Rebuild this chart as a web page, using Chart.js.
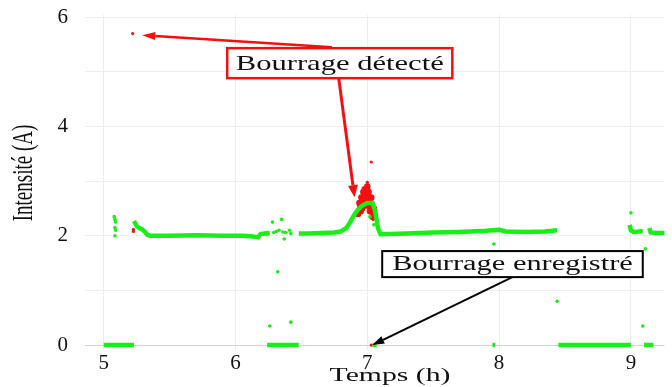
<!DOCTYPE html>
<html>
<head>
<meta charset="utf-8">
<script src="https://cdn.jsdelivr.net/npm/chart.js@4.4.1/dist/chart.umd.min.js"></script>
<style>
html, body { margin: 0; padding: 0; background: #fff; }
#wrap { width: 672px; height: 387px; }
</style>
</head>
<body>
<div id="wrap"><canvas id="myChart"></canvas></div>
<script>
// current trace (A) vs time (h); null = gap in the trace
let traceX = [5.0, 5.23, null,
    5.23, 5.25, 5.27, 5.29, 5.31, 5.33, 5.35, 5.5, 5.7, 5.9, 6.05, 6.12, 6.17, 6.19, 6.22, 6.26, null,
    6.24, 6.48, null,
    6.48, 6.55, 6.65, 6.75, 6.8, 6.84, 6.87, 6.9, 6.93, 6.96, 7.0, 7.04, 7.06, 7.08, 7.1, 7.3, 7.5, 7.7, 7.9, 8.0, 8.05, 8.2, 8.35, 8.44, null,
    7.04, 7.07, null,
    7.95, 7.97, null,
    8.45, 9.0, null,
    8.99, 9.0, 9.02, 9.06, 9.09, null,
    9.1, 9.17, null,
    9.14, 9.15, 9.2, 9.26];
let traceY = [0, 0, null,
    2.27, 2.18, 2.14, 2.12, 2.08, 2.02, 2.0, 2.0, 2.01, 2.0, 2.0, 1.99, 1.97, 2.03, 2.04, 2.05, null,
    0, 0, null,
    2.04, 2.04, 2.05, 2.06, 2.08, 2.14, 2.25, 2.38, 2.48, 2.55, 2.6, 2.6, 2.45, 2.15, 2.03, 2.04, 2.06, 2.07, 2.09, 2.11, 2.08, 2.07, 2.08, 2.1, null,
    0, 0, null,
    0, 0, null,
    0, 0, null,
    2.2, 2.1, 2.07, 2.08, 2.09, null,
    0, 0, null,
    2.14, 2.06, 2.05, 2.05];

// isolated green samples
let dotsX = [5.08, 5.085, 5.09, 5.085, 5.09, 5.085, 6.24, 6.28, 6.29, 6.31, 6.32, 6.33, 6.35, 6.36, 6.37, 6.38, 6.41, 6.42, 6.26, 6.42, 7.02, 7.05, 7.96, 8.44, 9.0, 9.11, 9.09];
let dotsY = [2.35, 2.3, 2.25, 2.15, 2.1, 2.0, 2.03, 2.25, 2.06, 2.08, 1.34, 2.1, 2.3, 2.07, 1.94, 2.06, 2.1, 2.04, 0.35, 0.42, 2.35, 2.2, 1.85, 0.8, 2.42, 1.76, 0.35];

// detected jam (red)
let jamX = [6.93, 6.94, 6.95, 6.955, 6.96, 6.97, 6.975, 6.98, 6.99, 7.0, 7.005, 7.01, 7.02, 7.03, 7.04, 7.05];
let jamY = [2.4, 2.6, 2.45, 2.7, 2.5, 2.8, 2.55, 2.85, 2.6, 2.9, 2.55, 2.8, 2.45, 2.7, 2.35, 2.5];
let redDotsX = [5.22, 5.225, 5.225, 7.03, 7.0, 7.03, 7.045];
let redDotsY = [5.7, 2.08, 2.12, 3.35, 2.98, 0, 2.3];

let xTicks = [5, 6, 7, 8, 9];
let yTicks = [0, 1, 2, 3, 4, 5, 6];

function pts(xs, ys) {
    return xs.map((x, i) => (x === null ? { x: NaN, y: null } : { x: x, y: ys[i] }));
}

let green = '#18ee18';
let red = '#f41010';
let serif = "'Liberation Serif', 'Times New Roman', serif";

// boxes and arrows in data units
let notes = [
    { text: 'Bourrage détecté', x0: 5.937, x1: 7.645, y0: 5.433, y1: 4.884, color: red, size: 22, stretch: 1.39, lw: 2.5 },
    { text: 'Bourrage enregistré', x0: 7.113, x1: 9.09, y0: 1.72, y1: 1.244, color: '#000', size: 20, stretch: 1.52, lw: 2 }
];
let arrows = [
    { from: [6.731, 5.45], to: [5.292, 5.67], color: red, lw: 2.5, head: 13, hw: 4 },
    { from: [6.783, 4.884], to: [6.903, 2.707], color: red, lw: 3, head: 12, hw: 5 },
    { from: [8.101, 1.244], to: [7.038, 0], color: '#000', lw: 2, head: 12, hw: 4 }
];

function arrow(ctx, x1, y1, x2, y2, c, lw, hl, hw) {
    let a = Math.atan2(y2 - y1, x2 - x1);
    let bx = x2 - hl * Math.cos(a), by = y2 - hl * Math.sin(a);
    ctx.strokeStyle = c;
    ctx.fillStyle = c;
    ctx.lineWidth = lw;
    ctx.beginPath();
    ctx.moveTo(x1, y1);
    ctx.lineTo(bx, by);
    ctx.stroke();
    ctx.beginPath();
    ctx.moveTo(x2, y2);
    ctx.lineTo(bx + hw * Math.sin(a), by - hw * Math.cos(a));
    ctx.lineTo(bx - hw * Math.sin(a), by + hw * Math.cos(a));
    ctx.closePath();
    ctx.fill();
}

function stretchedText(ctx, t, x, y, size, sx, sy, rot) {
    ctx.save();
    ctx.translate(x, y);
    if (rot) ctx.rotate(rot);
    ctx.scale(sx, sy);
    ctx.font = size + 'px ' + serif;
    ctx.fillStyle = '#111';
    ctx.textAlign = 'center';
    ctx.textBaseline = 'middle';
    ctx.fillText(t, 0, 0);
    ctx.restore();
}

const notesPlugin = {
    id: 'notes',
    afterDraw(chart) {
        let ctx = chart.ctx;
        let xs = chart.scales.x, ys = chart.scales.y;
        ctx.save();
        arrows.forEach(a => {
            arrow(ctx, xs.getPixelForValue(a.from[0]), ys.getPixelForValue(a.from[1]),
                xs.getPixelForValue(a.to[0]), ys.getPixelForValue(a.to[1]), a.color, a.lw, a.head, a.hw);
        });
        notes.forEach(n => {
            let l = xs.getPixelForValue(n.x0), r = xs.getPixelForValue(n.x1);
            let t = ys.getPixelForValue(n.y0), b = ys.getPixelForValue(n.y1);
            ctx.fillStyle = '#fff';
            ctx.fillRect(l, t, r - l, b - t);
            ctx.strokeStyle = n.color;
            ctx.lineWidth = n.lw;
            ctx.strokeRect(l, t, r - l, b - t);
            stretchedText(ctx, n.text, (l + r) / 2, (t + b) / 2 + 1, n.size, n.stretch, 1, 0);
        });
        // axis titles
        stretchedText(ctx, 'Temps (h)', 390, 376, 18, 1.65, 1, 0);
        stretchedText(ctx, 'Intensité (A)', 25, 173, 19, 1, 1.5, -Math.PI / 2);
        ctx.restore();
    }
};

new Chart('myChart', {
    type: 'scatter',
    data: {
        datasets: [
            { data: pts(traceX, traceY), showLine: true, borderColor: green, borderWidth: 4.5, pointRadius: 0, spanGaps: false },
            { data: pts(dotsX, dotsY), backgroundColor: green, borderWidth: 0, pointRadius: 1.8 },
            { data: pts(jamX, jamY), showLine: true, borderColor: red, borderWidth: 3.5, pointRadius: 1.5, backgroundColor: red, borderJoinStyle: 'bevel' },
            { data: pts(redDotsX, redDotsY), backgroundColor: red, borderWidth: 0, pointRadius: 1.6 }
        ]
    },
    options: {
        responsive: true,
        maintainAspectRatio: false,
        animation: false,
        layout: { padding: { top: 15, right: 0, left: 0, bottom: 0 } },
        plugins: { legend: { display: false }, tooltip: { enabled: false } },
        scales: {
            x: {
                type: 'linear',
                min: 4.858,
                max: 9.255,
                afterBuildTicks: s => { s.ticks = xTicks.map(v => ({ value: v })); },
                afterFit: s => { s.height = 37; s.paddingLeft = 0; s.paddingRight = 0; },
                ticks: { font: { family: serif, size: 21 }, color: '#111', padding: 1, maxRotation: 0, autoSkip: false },
                grid: { color: '#ededed', drawTicks: false },
                border: { display: false }
            },
            y: {
                min: -0.09,
                max: 6.04,
                afterBuildTicks: s => { s.ticks = yTicks.map(v => ({ value: v })); },
                afterFit: s => { s.width = 85; s.paddingTop = 0; s.paddingBottom = 0; },
                ticks: { font: { family: serif, size: 21 }, color: '#111', padding: 17, callback: v => (v % 2 === 0 ? v : '') },
                grid: { color: c => (c.tick && c.tick.value === 0 ? '#d2d2d2' : '#efefef'), drawTicks: false },
                border: { display: false }
            }
        }
    },
    plugins: [notesPlugin]
});
</script>
</body>
</html>
